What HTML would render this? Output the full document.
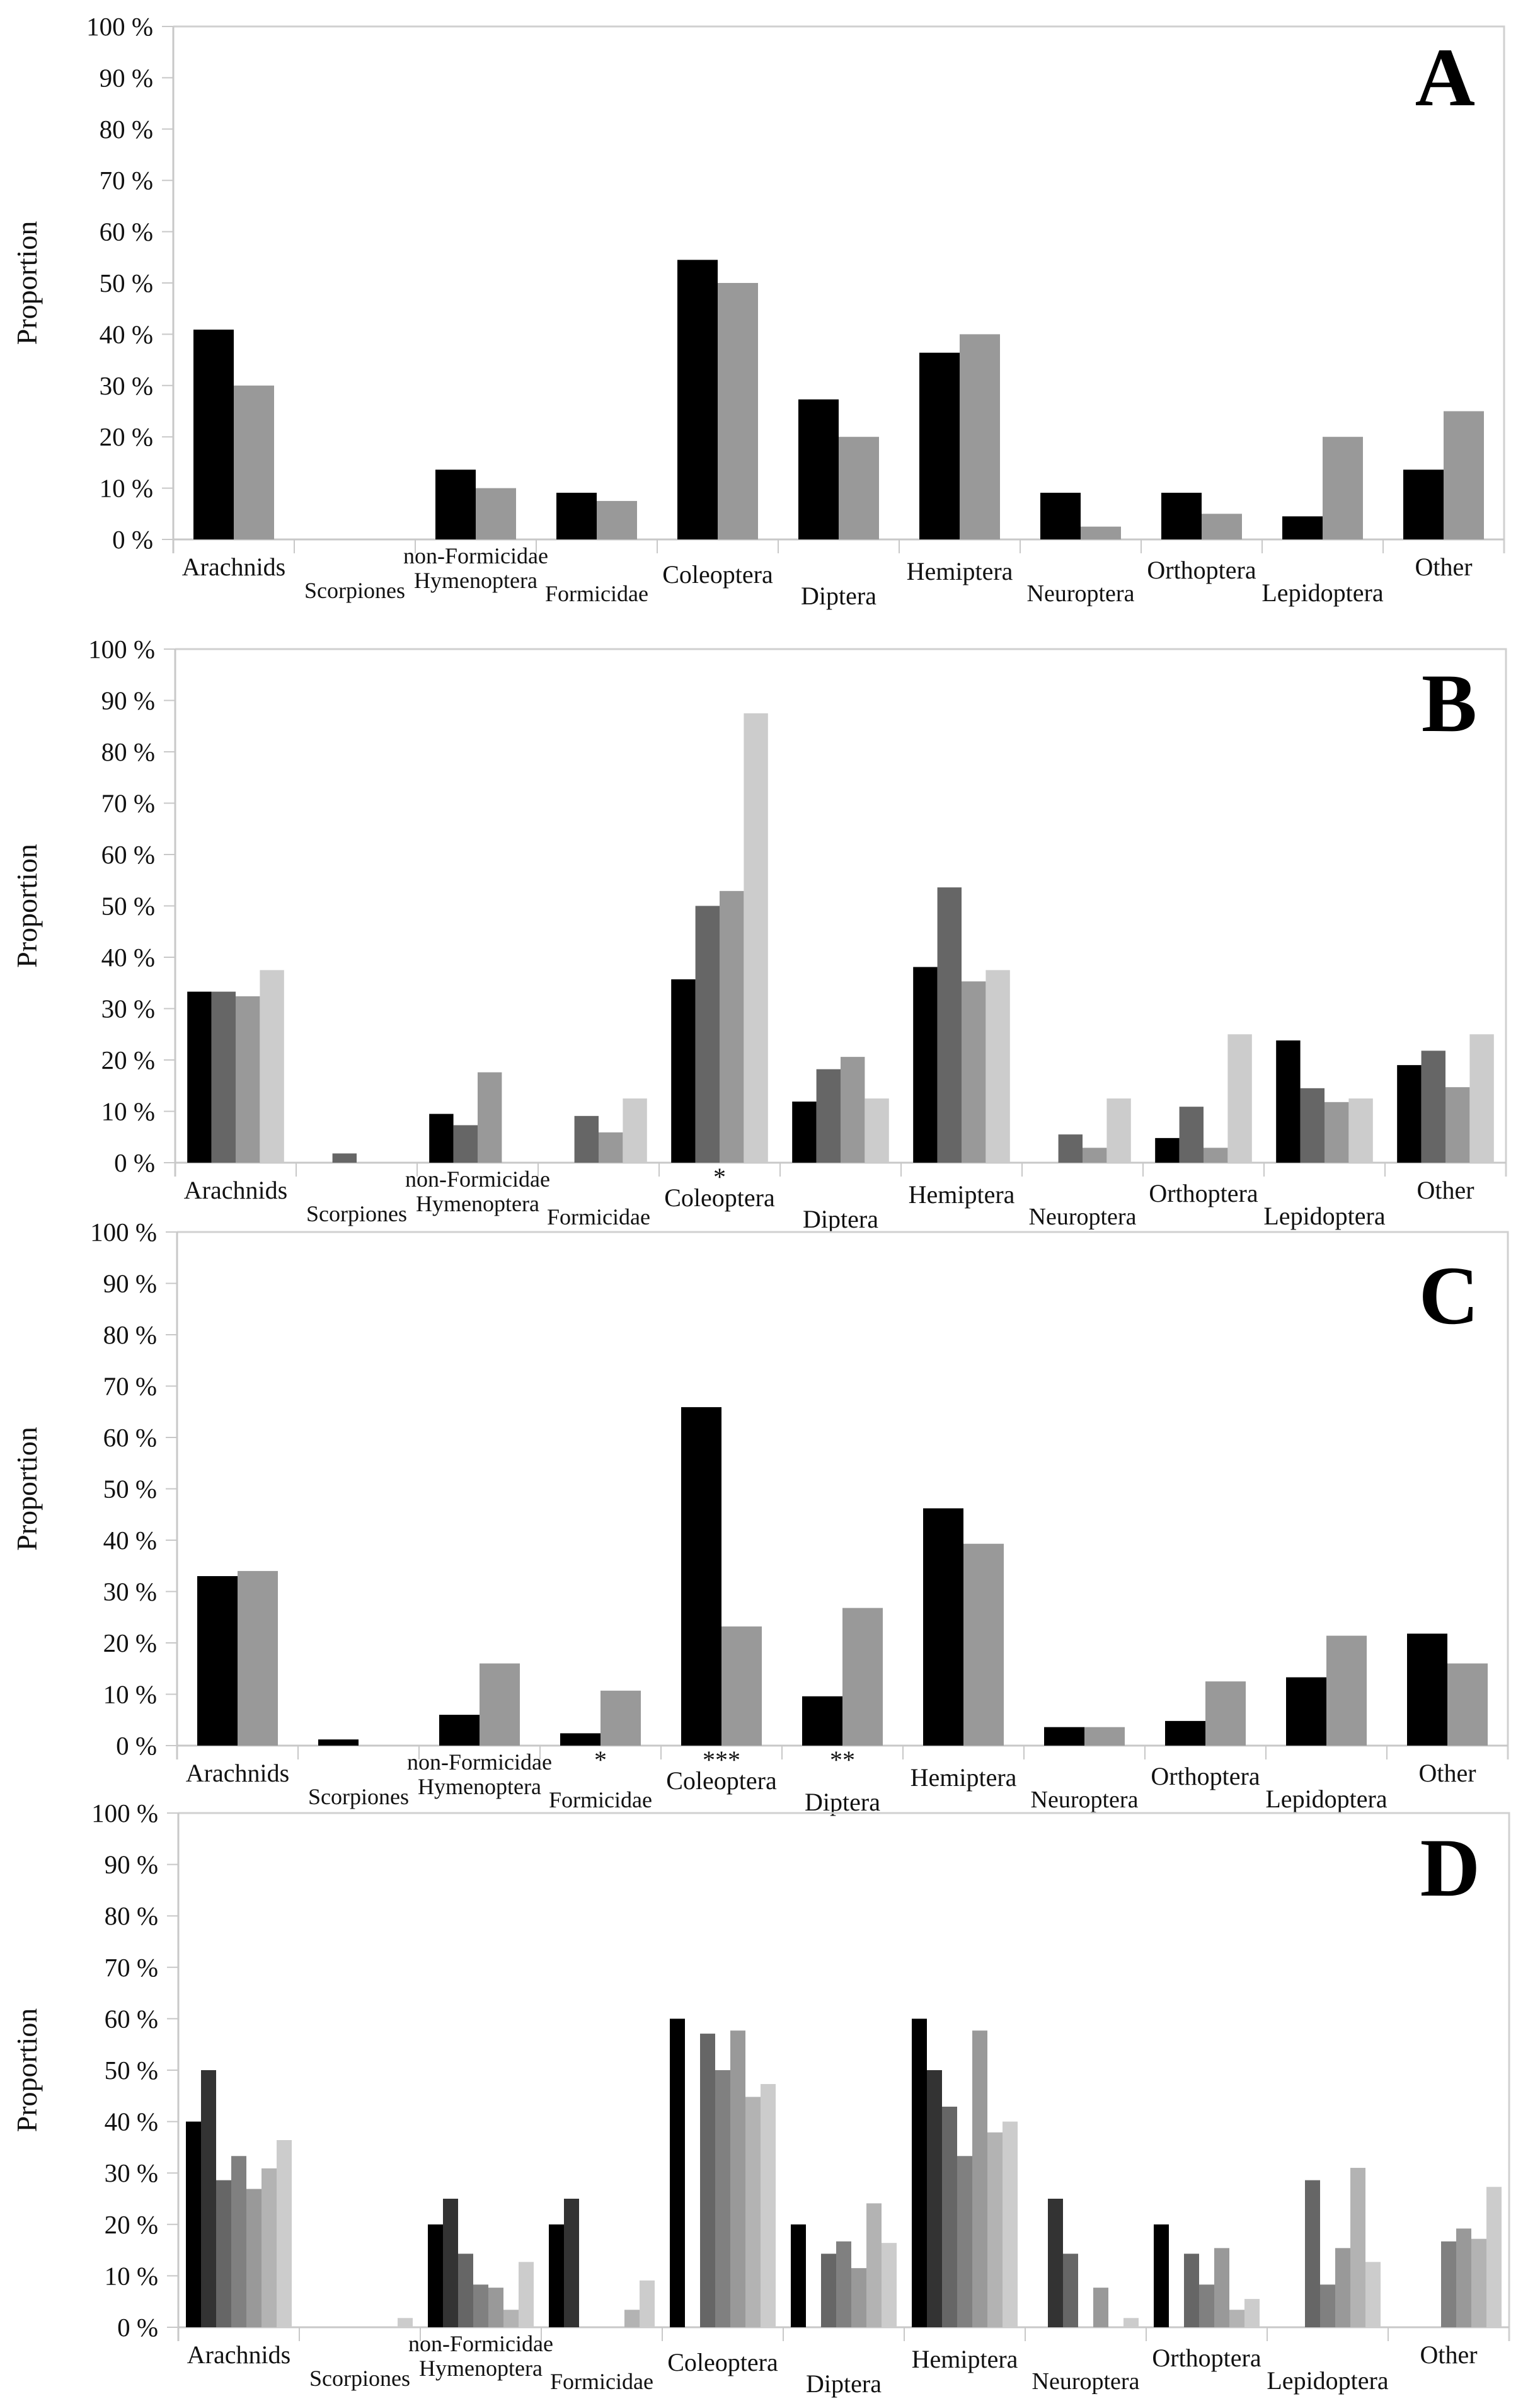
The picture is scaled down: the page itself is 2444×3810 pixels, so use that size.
<!DOCTYPE html>
<html><head><meta charset="utf-8">
<style>
html,body{margin:0;padding:0;background:#fff;}
svg{display:block;}
text{font-family:"Liberation Serif",serif;}
</style></head>
<body>
<svg id="chart" width="2444" height="3810" viewBox="0 0 2444 3810" xmlns="http://www.w3.org/2000/svg" font-family="Liberation Serif, serif"></svg>
<script>
const categories = ["Arachnids","Scorpiones","non-Formicidae|Hymenoptera","Formicidae","Coleoptera","Diptera","Hemiptera","Neuroptera","Orthoptera","Lepidoptera","Other"];
const yTicks = [0,10,20,30,40,50,60,70,80,90,100];
const tickLabels = ["0 %","10 %","20 %","30 %","40 %","50 %","60 %","70 %","80 %","90 %","100 %"];

// Panel A: 2 series
const aS1 = [40.9,0,13.6,9.1,54.5,27.3,36.4,9.1,9.1,4.5,13.6];
const aS2 = [30,0,10,7.5,50,20,40,2.5,5,20,25];
// Panel B: 4 series
const bS1 = [33.3,0,9.5,0,35.7,11.9,38.1,0,4.8,23.8,19];
const bS2 = [33.3,1.8,7.3,9.1,50,18.2,53.6,5.5,10.9,14.5,21.8];
const bS3 = [32.4,0,17.6,5.9,52.9,20.6,35.3,2.9,2.9,11.8,14.7];
const bS4 = [37.5,0,0,12.5,87.5,12.5,37.5,12.5,25,12.5,25];
// Panel C: 2 series
const cS1 = [33,1.2,6,2.4,65.9,9.6,46.2,3.6,4.8,13.3,21.8];
const cS2 = [34,0,16,10.7,23.2,26.8,39.3,3.6,12.5,21.4,16];
// Panel D: 7 series
const dS1 = [40,0,20,20,60,20,60,0,20,0,0];
const dS2 = [50,0,25,25,0,0,50,25,0,0,0];
const dS3 = [28.6,0,14.3,0,57.1,14.3,42.9,14.3,14.3,28.6,0];
const dS4 = [33.3,0,8.3,0,50,16.7,33.3,0,8.3,8.3,16.7];
const dS5 = [26.9,0,7.7,0,57.7,11.5,57.7,7.7,15.4,15.4,19.2];
const dS6 = [30.9,0,3.4,3.4,44.8,24.1,37.9,0,3.4,31,17.2];
const dS7 = [36.4,1.8,12.7,9.1,47.3,16.4,40,1.8,5.5,12.7,27.3];
// significance marks
const bMarks = ["","","","","*","","","","","",""];
const cMarks = ["","","","*","***","**","","","","",""];

const NS="http://www.w3.org/2000/svg";
const svg=document.getElementById('chart');
function mk(tag,attrs,parent){const e=document.createElementNS(NS,tag);for(const k in attrs)e.setAttribute(k,attrs[k]);if(tag==='text')e.setAttribute('font-family','Liberation Serif, serif');(parent||svg).appendChild(e);return e;}

const labelOffsets=[44,80,[27,66],85,56,90,51,85,49,85,44];
const labelSizes=[40,36,36,36,40,40,40,38,40,40,40];

const panels=[
 {id:'a',letter:'A',x0:275,top:42,bottom:856,series:[aS1,aS2],colors:['#000','#999'],marks:null,ly:167},
 {id:'b',letter:'B',x0:278,top:1030,bottom:1845,series:[bS1,bS2,bS3,bS4],colors:['#000','#666','#999','#ccc'],marks:bMarks,ly:1160},
 {id:'c',letter:'C',x0:281,top:1955,bottom:2770,series:[cS1,cS2],colors:['#000','#999'],marks:cMarks,ly:2100},
 {id:'d',letter:'D',x0:283,top:2877,bottom:3693,series:[dS1,dS2,dS3,dS4,dS5,dS6,dS7],colors:['#000','#333','#666','#808080','#999','#b3b3b3','#ccc'],marks:null,ly:3008}
];
const catW=192;

panels.forEach(p=>{
 const g=mk('g',{});
 
 
 const x1=p.x0+catW*categories.length;
 const yScale=v=>p.bottom-(v/100)*(p.bottom-p.top);
 const xBand=i=>p.x0+i*catW;
 const fr=mk('path',{d:`M${p.x0} ${p.top}H${x1}V${p.bottom+22}`,fill:'none',stroke:'#d0d0d0','stroke-width':3},g);
 
 
 const ax=mk('line',{x1:p.x0,y1:p.top,x2:p.x0,y2:p.bottom+22,stroke:'#c8c8c8','stroke-width':3},g);
 
 
 const xa=mk('line',{x1:p.x0,y1:p.bottom,x2:x1,y2:p.bottom,stroke:'#c8c8c8','stroke-width':3},g);
 
 
 yTicks.forEach((v,i)=>{
  const y=yScale(v);
  const t=mk('line',{x1:p.x0-18,y1:y,x2:p.x0,y2:y,stroke:'#c8c8c8','stroke-width':2},g);
  
  
  const tx=mk('text',{x:p.x0-32,y:y+14,'font-size':41,'text-anchor':'end',fill:'#111'},g);
  tx.textContent=tickLabels[i];
  
  
 });
 const yt=mk('text',{x:0,y:0,'font-size':46,'text-anchor':'middle',fill:'#111',transform:`translate(58 ${(p.top+p.bottom)/2}) rotate(-90)`},g);
 yt.textContent='Proportion';
 
 
 const n=p.series.length;
 const bw=catW/(n+1);
 categories.forEach((c,i)=>{
  const bx=xBand(i);
  const tk=mk('line',{x1:bx,y1:p.bottom,x2:bx,y2:p.bottom+22,stroke:'#c8c8c8','stroke-width':2},g);
  
  
  p.series.forEach((s,j)=>{
   const v=s[i]; if(!v) return;
   const r=mk('rect',{x:bx+bw/2+j*bw,y:yScale(v),width:bw,height:yScale(0)-yScale(v),fill:p.colors[j]},g);
   
   
  });
  const cx=bx+catW/2;
  const parts=c.split('|');
  const off=labelOffsets[i];
  if(parts.length===2){
   parts.forEach((pt,k)=>{
    const t=mk('text',{x:cx,y:p.bottom+off[k]+11,'font-size':labelSizes[i],'text-anchor':'middle',fill:'#111'},g);
    t.textContent=pt;
    
    
   });
  } else {
   const t=mk('text',{x:cx,y:p.bottom+off+13,'font-size':labelSizes[i],'text-anchor':'middle',fill:'#111'},g);
   t.textContent=c;
   
   
  }
  if(p.marks && p.marks[i]){
   const m=mk('text',{x:cx,y:p.bottom+36,'font-size':40,'text-anchor':'middle',fill:'#111'},g);
   m.textContent=p.marks[i];
   
   
  }
 });
 const L=mk('text',{x:x1-46,y:p.ly,'font-size':132,'font-weight':'bold','text-anchor':'end',fill:'#000'},g);
 L.textContent=p.letter;
 
 
});
</script>
</body></html>
